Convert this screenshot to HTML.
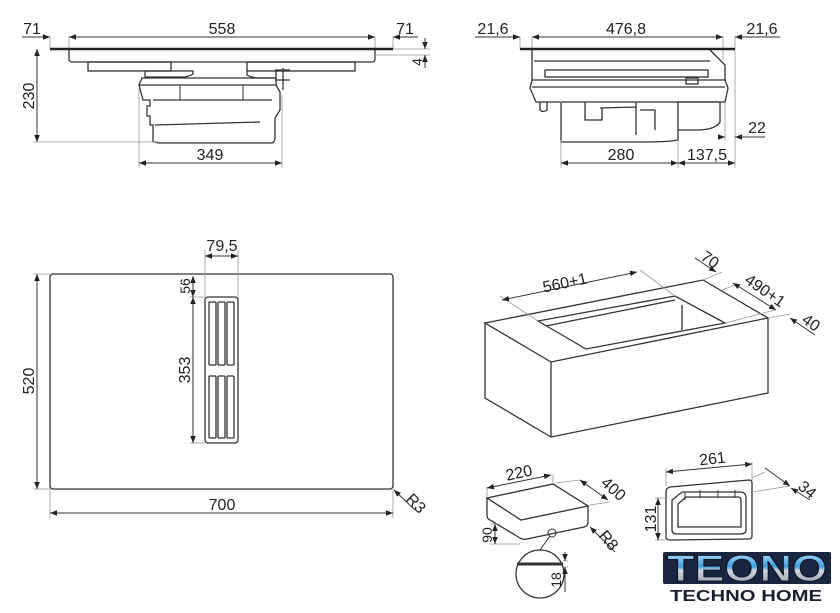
<!DOCTYPE html>
<html><head><meta charset="utf-8"><style>
html,body{margin:0;padding:0;background:#fff;}
svg{display:block;}
text{font-family:"Liberation Sans",sans-serif;fill:#222;}
.d{stroke:#333;stroke-width:1;fill:none;}
.e{stroke:#999;stroke-width:0.8;fill:none;}
.o{stroke:#333;stroke-width:1.3;fill:none;}
</style></head><body>
<svg width="840" height="613" viewBox="0 0 840 613" xmlns="http://www.w3.org/2000/svg" font-size="16">
<defs>
<marker id="a" viewBox="0 0 10 10" refX="10" refY="5" markerWidth="7" markerHeight="7" orient="auto-start-reverse"><path d="M0,1 L10,5 L0,9 z" fill="#222"/></marker>
<linearGradient id="g" x1="0" y1="0" x2="0" y2="1"><stop offset="0" stop-color="#d6f0ff"/><stop offset="0.45" stop-color="#3c9fe0"/><stop offset="0.55" stop-color="#d0d4da"/><stop offset="1" stop-color="#8a9099"/></linearGradient>
</defs>

<!-- TOP LEFT VIEW -->
<g>
<line class="e" x1="50" y1="37" x2="50" y2="49"/><line class="e" x1="69" y1="37" x2="69" y2="55"/>
<line class="e" x1="375" y1="37" x2="375" y2="55"/><line class="e" x1="393" y1="37" x2="393" y2="49"/>
<line class="d" x1="69" y1="37" x2="375" y2="37" marker-start="url(#a)" marker-end="url(#a)"/>
<line class="d" x1="22" y1="37" x2="50" y2="37" marker-end="url(#a)"/>
<line class="d" x1="418" y1="37" x2="393" y2="37" marker-end="url(#a)"/>
<text x="222" y="34" text-anchor="middle">558</text>
<text x="32" y="34" text-anchor="middle">71</text>
<text x="405" y="34" text-anchor="middle">71</text>
<line x1="50" y1="49" x2="393" y2="49" stroke="#222" stroke-width="2.5"/>
<path class="o" d="M69,50 V59 Q69,62 72,62 H372 Q375,62 375,59 V50"/>
<rect class="o" x="88" y="62" width="83" height="9"/>
<rect class="o" x="247" y="62" width="108" height="9"/>
<path class="o" d="M145,71 H193 V74 Q190,76 185,77 H145z"/>
<path class="o" d="M247,71 V75 Q252,78 260,78 H276 V71"/>
<path class="o" d="M142,78 H276 V85 H139 Z"/>
<path class="o" d="M139,85 L143,100 H150 V106 H147 V116 H150 V125 H153 V141 Q156,143 160,143 H272 Q275,142 275,138 V118 L280,110 V92 L276,85"/>
<line class="o" x1="153" y1="100" x2="272" y2="100"/>
<line class="o" x1="155" y1="125" x2="260" y2="122"/>
<line class="d" x1="180" y1="85" x2="180" y2="100"/><line class="d" x1="243" y1="85" x2="243" y2="100"/>
<path class="o" d="M275,70 H290 M275,80 H290 M283,68 V90"/>
<line class="e" x1="139" y1="88" x2="139" y2="168"/><line class="e" x1="282" y1="95" x2="282" y2="168"/>
<line class="d" x1="139" y1="163" x2="282" y2="163" marker-start="url(#a)" marker-end="url(#a)"/>
<text x="210" y="160" text-anchor="middle">349</text>
<line class="e" x1="33" y1="142" x2="160" y2="142"/>
<line class="d" x1="37" y1="49" x2="37" y2="142" marker-start="url(#a)" marker-end="url(#a)"/>
<text transform="translate(34,96) rotate(-90)" text-anchor="middle">230</text>
<line class="e" x1="393" y1="49" x2="430" y2="49"/><line class="e" x1="375" y1="55" x2="430" y2="55"/>
<line class="d" x1="425" y1="38" x2="425" y2="49" marker-end="url(#a)"/>
<line class="d" x1="425" y1="68" x2="425" y2="55" marker-end="url(#a)"/>
<text transform="translate(422,62) rotate(-90)" text-anchor="middle" style="font-size:14px">4</text>
</g>

<!-- TOP RIGHT VIEW -->
<g>
<line class="e" x1="520" y1="37" x2="520" y2="49"/><line class="e" x1="532" y1="37" x2="532" y2="60"/>
<line class="e" x1="723" y1="37" x2="723" y2="60"/><line class="e" x1="735" y1="37" x2="735" y2="168"/>
<line class="d" x1="532" y1="37" x2="723" y2="37" marker-start="url(#a)" marker-end="url(#a)"/>
<line class="d" x1="475" y1="37" x2="520" y2="37" marker-end="url(#a)"/>
<line class="d" x1="780" y1="37" x2="735" y2="37" marker-end="url(#a)"/>
<text x="626" y="34" text-anchor="middle">476,8</text>
<text x="493" y="34" text-anchor="middle">21,6</text>
<text x="762" y="34" text-anchor="middle">21,6</text>
<line x1="520" y1="49" x2="735" y2="49" stroke="#222" stroke-width="2.5"/>
<path class="o" d="M532,50 V80 M710,50 L725,65 V80"/>
<line class="o" x1="534" y1="61" x2="710" y2="61"/>
<rect class="o" x="545" y="70" width="163" height="7"/>
<path class="o" d="M532,80 H725 L728,88 L725,102 H678 M532,80 L530,88 L536,102 H560"/>
<line class="o" x1="532" y1="87" x2="725" y2="87"/>
<path class="o" d="M540,102 V110 Q543,113 547,110 V102"/>
<rect class="o" x="686" y="78" width="12" height="6"/>
<path class="o" d="M561,102 H678 V140 Q670,142 640,142 H561 Z"/>
<path class="o" d="M585,102 V120 H602 V108 M636,102 V135 M640,110 H655 V130 M600,108 L636,107"/>
<path class="o" d="M678,102 H720 V122 Q716,129 700,130 H678"/>
<line class="e" x1="725" y1="102" x2="725" y2="140"/>
<line class="d" x1="718" y1="137" x2="725" y2="137" marker-end="url(#a)"/>
<line class="d" x1="765" y1="137" x2="735" y2="137" marker-end="url(#a)"/>
<text x="757" y="133" text-anchor="middle">22</text>
<line class="e" x1="561" y1="140" x2="561" y2="168"/><line class="e" x1="678" y1="140" x2="678" y2="168"/>
<line class="d" x1="561" y1="163" x2="678" y2="163" marker-start="url(#a)" marker-end="url(#a)"/>
<line class="d" x1="678" y1="163" x2="735" y2="163" marker-start="url(#a)" marker-end="url(#a)"/>
<text x="621" y="160" text-anchor="middle">280</text>
<text x="707" y="160" text-anchor="middle">137,5</text>
</g>

<!-- MIDDLE LEFT -->
<g>
<rect class="o" x="50" y="274" width="343" height="215" rx="3"/>
<line class="e" x1="33" y1="274" x2="50" y2="274"/><line class="e" x1="33" y1="489" x2="50" y2="489"/>
<line class="d" x1="37" y1="274" x2="37" y2="489" marker-start="url(#a)" marker-end="url(#a)"/>
<text transform="translate(34,381) rotate(-90)" text-anchor="middle">520</text>
<line class="e" x1="50" y1="489" x2="50" y2="518"/><line class="e" x1="393" y1="489" x2="393" y2="518"/>
<line class="d" x1="50" y1="513" x2="393" y2="513" marker-start="url(#a)" marker-end="url(#a)"/>
<text x="222" y="510" text-anchor="middle">700</text>
<line class="d" x1="415" y1="510" x2="394" y2="490" marker-end="url(#a)"/>
<text transform="translate(405,500) rotate(45)">R3</text>
<rect class="o" x="205" y="297" width="33" height="146" rx="3"/>
<g class="o">
<rect x="209" y="302" width="7" height="63" rx="1"/><rect x="218" y="302" width="7" height="63" rx="1"/><rect x="227" y="302" width="7" height="63" rx="1"/>
<rect x="209" y="376" width="7" height="62" rx="1"/><rect x="218" y="376" width="7" height="62" rx="1"/><rect x="227" y="376" width="7" height="62" rx="1"/>
</g>
<line class="e" x1="205" y1="250" x2="205" y2="297"/><line class="e" x1="238" y1="250" x2="238" y2="297"/>
<line class="d" x1="205" y1="256" x2="238" y2="256" marker-start="url(#a)" marker-end="url(#a)"/>
<text x="222" y="251" text-anchor="middle">79,5</text>
<line class="e" x1="190" y1="297" x2="205" y2="297"/><line class="e" x1="190" y1="443" x2="205" y2="443"/>
<line class="d" x1="193" y1="276" x2="193" y2="297" marker-start="url(#a)" marker-end="url(#a)"/>
<line class="d" x1="193" y1="297" x2="193" y2="443" marker-start="url(#a)" marker-end="url(#a)"/>
<text transform="translate(190,286) rotate(-90)" text-anchor="middle" style="font-size:14px">56</text>
<text transform="translate(190,370) rotate(-90)" text-anchor="middle">353</text>
</g>

<!-- MIDDLE RIGHT box -->
<g>
<path class="o" d="M485,323 L703,280 L768,318 L551,362 Z"/>
<path class="o" d="M485,323 V398 L551,437 L768,393 V318 M551,362 V437"/>
<path class="o" d="M538,321 L675,296 L725,323 L586,349 Z"/>
<line class="o" x1="546" y1="326" x2="675" y2="300"/>
<line class="o" x1="682" y1="305" x2="682" y2="330"/>
<line class="e" x1="500" y1="296" x2="538" y2="321"/><line class="e" x1="640" y1="270" x2="675" y2="296"/>
<line class="d" x1="502" y1="300" x2="637" y2="272" marker-start="url(#a)" marker-end="url(#a)"/>
<text transform="translate(566,288) rotate(-12)" text-anchor="middle">560+1</text>
<line class="e" x1="703" y1="280" x2="722" y2="272"/><line class="e" x1="722" y1="290" x2="735" y2="285"/><line class="e" x1="725" y1="323" x2="775" y2="310"/><line class="e" x1="768" y1="318" x2="790" y2="314"/>
<line class="d" x1="695" y1="258" x2="716" y2="272" marker-end="url(#a)"/>
<line class="d" x1="733" y1="283" x2="776" y2="310" marker-start="url(#a)" marker-end="url(#a)"/>
<line class="d" x1="815" y1="335" x2="790" y2="318" marker-end="url(#a)"/>
<text transform="translate(707,264) rotate(35)" text-anchor="middle">70</text>
<text transform="translate(762,295) rotate(35)" text-anchor="middle">490+1</text>
<text transform="translate(808,327) rotate(35)" text-anchor="middle">40</text>
</g>

<!-- BOTTOM duct -->
<g>
<path class="o" d="M487,498 L553,484 L588,506 L521,520 Z"/>
<path class="o" d="M487,498 V515 Q487,519 490,520 L520,538 Q523,540 527,539 L584,527 Q588,526 588,522 V506"/>
<line class="e" x1="487" y1="487" x2="487" y2="498"/><line class="e" x1="553" y1="475" x2="553" y2="484"/>
<line class="d" x1="487" y1="488" x2="551" y2="475" marker-start="url(#a)" marker-end="url(#a)"/>
<text transform="translate(520,478) rotate(-12)" text-anchor="middle">220</text>
<line class="e" x1="556" y1="483" x2="580" y2="480"/><line class="e" x1="590" y1="505" x2="610" y2="502"/>
<line class="d" x1="580" y1="480" x2="608" y2="500" marker-start="url(#a)" marker-end="url(#a)"/>
<text transform="translate(600,484) rotate(42)">400</text>
<line class="d" x1="615" y1="552" x2="590" y2="527" marker-end="url(#a)"/>
<text transform="translate(598,536) rotate(50)">R8</text>
<line class="e" x1="490" y1="524" x2="500" y2="524"/><line class="e" x1="490" y1="544" x2="520" y2="544"/>
<line class="d" x1="495" y1="524" x2="495" y2="544" marker-start="url(#a)" marker-end="url(#a)"/>
<text transform="translate(492,535) rotate(-90)" text-anchor="middle" style="font-size:14px">90</text>
<circle class="d" cx="552" cy="533" r="4"/>
<line class="d" x1="550" y1="536" x2="540" y2="550"/>
<circle class="o" cx="540" cy="574" r="24"/>
<line x1="517" y1="564" x2="563" y2="564" stroke="#333" stroke-width="3"/>
<line class="e" x1="563" y1="561" x2="568" y2="561"/><line class="e" x1="563" y1="567" x2="568" y2="567"/>
<line class="d" x1="565" y1="552" x2="565" y2="561" marker-end="url(#a)"/>
<line class="d" x1="565" y1="592" x2="565" y2="567" marker-end="url(#a)"/>
<text transform="translate(561,580) rotate(-90)" text-anchor="middle" style="font-size:14px">18</text>
</g>

<!-- flange -->
<g>
<path class="o" d="M666,492 Q666,488 670,487 L749,480 Q752,480 752,483 V536 Q752,539 749,539 L670,540 Q666,540 666,537 Z"/>
<path class="o" d="M672,500 L682,492 H740 Q746,492 746,498 V530 Q746,534 740,534 H678 Q672,534 672,530 Z"/>
<path class="o" d="M678,504 L686,497 H738 Q741,497 741,500 V527 H678 Z"/>
<path class="d" d="M685,492 V500 M700,490 V498 M718,490 V498 M735,490 V498"/>
<line class="e" x1="666" y1="487" x2="666" y2="468"/><line class="e" x1="752" y1="480" x2="752" y2="462"/>
<line class="d" x1="666" y1="472" x2="752" y2="464" marker-start="url(#a)" marker-end="url(#a)"/>
<text transform="translate(713,464) rotate(-6)" text-anchor="middle">261</text>
<line class="e" x1="752" y1="478" x2="765" y2="472"/><line class="e" x1="752" y1="492" x2="790" y2="486"/>
<line class="d" x1="765" y1="468" x2="790" y2="486" marker-end="url(#a)"/>
<line class="d" x1="810" y1="500" x2="791" y2="488" marker-end="url(#a)"/>
<text transform="translate(797,488) rotate(40)">34</text>
<line class="e" x1="655" y1="498" x2="666" y2="498"/><line class="e" x1="655" y1="540" x2="666" y2="540"/>
<line class="d" x1="658" y1="498" x2="658" y2="540" marker-start="url(#a)" marker-end="url(#a)"/>
<text transform="translate(656,519) rotate(-90)" text-anchor="middle">131</text>
</g>

<!-- logo -->
<g>
<rect x="663" y="552" width="168" height="32" rx="2" fill="#1a2540"/>
<text x="667" y="581" textLength="160" lengthAdjust="spacingAndGlyphs" style="font-size:37px;font-weight:bold;fill:url(#g);stroke:#0e1628;stroke-width:1">TEONO</text>
<text x="670" y="601" textLength="152" lengthAdjust="spacingAndGlyphs" style="font-size:16px;font-weight:bold;fill:#1a2030">TECHNO HOME</text>
</g>
</svg>
</body></html>
